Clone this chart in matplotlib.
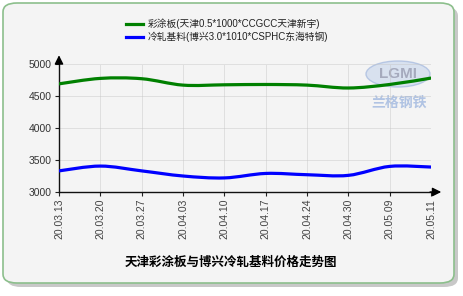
import numpy as np
import matplotlib
matplotlib.use('Agg')
import matplotlib.pyplot as plt
from matplotlib.path import Path
from matplotlib.patches import PathPatch, FancyBboxPatch, Ellipse

plt.rcParams['font.family'] = ['Liberation Sans', 'Noto Sans CJK SC']

dates = ['20.03.13', '20.03.20', '20.03.27', '20.04.03', '20.04.10',
         '20.04.17', '20.04.24', '20.04.30', '20.05.09', '20.05.11']
coated = [4690, 4775, 4770, 4670, 4675, 4680, 4670, 4625, 4680, 4780]
cold = [3330, 3405, 3330, 3250, 3220, 3290, 3270, 3260, 3400, 3390]
name_coated = '彩涂板(天津0.5*1000*CCGCC天津新宇)'
name_cold = '冷轧基料(博兴3.0*1010*CSPHC东海特钢)'
title = '天津彩涂板与博兴冷轧基料价格走势图'
yticks = [3000, 3500, 4000, 4500, 5000]


def smooth_path(x, y):
    # catmull-rom through the points, drawn as bezier segments
    p = np.column_stack([x, y]).astype(float)
    pp = np.vstack([p[0], p, p[-1]])
    verts = [p[0]]
    codes = [Path.MOVETO]
    for i in range(len(p) - 1):
        c1 = pp[i + 1] + (pp[i + 2] - pp[i]) / 6.0
        c2 = pp[i + 2] - (pp[i + 3] - pp[i + 1]) / 6.0
        verts += [c1, c2, pp[i + 2]]
        codes += [Path.CURVE4] * 3
    return Path(verts, codes)


fig = plt.figure(figsize=(4.64, 2.96), dpi=100)
fig.patch.set_facecolor('white')

W, H = 464.0, 296.0
# shadow + rounded frame
fig.patches.append(FancyBboxPatch((7 / W, 1 - 287 / H), 451 / W, 280 / H,
                                  boxstyle='round,pad=0,rounding_size=0.03',
                                  transform=fig.transFigure, facecolor='#c8c8c8',
                                  edgecolor='none', zorder=-3))
fig.patches.append(FancyBboxPatch((3 / W, 1 - 283 / H), 451 / W, 280 / H,
                                  boxstyle='round,pad=0,rounding_size=0.03',
                                  transform=fig.transFigure, facecolor='#f4f4f4',
                                  edgecolor='#8cbf8c', linewidth=1.2, zorder=-2))

# watermark (under the plot)
fig.patches.append(Ellipse((398 / W, 1 - 74 / H), 64 / W, 26 / H,
                           transform=fig.transFigure, facecolor='#cdd9ee',
                           edgecolor='#a3b8de', alpha=0.7, zorder=-1))
fig.text(398 / W, 1 - 74 / H, 'LGMI', fontsize=11, fontweight='bold',
         color='#a0a4b8', ha='center', va='center', alpha=0.9, zorder=-1)
fig.text(399 / W, 1 - 103 / H, '兰格钢铁', fontsize=10, color='#b0c3e3',
         ha='center', va='center', fontweight='bold', zorder=-1)

ax = fig.add_axes([59 / W, 1 - 192 / H, 372 / W, 128 / H])
ax.patch.set_visible(False)
x = np.arange(len(dates))
ax.set_xlim(0, len(dates) - 1)
ax.set_ylim(3000, 5000)

ax.add_patch(PathPatch(smooth_path(x, coated), facecolor='none',
                       edgecolor='#008000', linewidth=2.3, zorder=3, capstyle='round'))
ax.add_patch(PathPatch(smooth_path(x, cold), facecolor='none',
                       edgecolor='#0000ff', linewidth=2.3, zorder=3, capstyle='round'))

ax.set_xticks(x)
ax.set_xticklabels(dates, rotation=90, fontsize=7.5, color='#444444')
ax.set_yticks(yticks)
ax.set_yticklabels([str(v) for v in yticks], fontsize=7.5, color='#333333')
ax.tick_params(axis='both', length=3, width=0.8, color='#222222', pad=2)
ax.grid(True, color='#c4c4c4', linestyle=(0, (1.2, 1.2)), linewidth=0.6)
ax.set_axisbelow(True)

for s in ['top', 'right']:
    ax.spines[s].set_visible(False)
for s in ['left', 'bottom']:
    ax.spines[s].set_color('#111111')
    ax.spines[s].set_linewidth(1.0)

# axis arrows
ax.annotate('', xy=(0, 1.09), xytext=(0, 0.98), xycoords='axes fraction',
            arrowprops=dict(arrowstyle='-|>', color='black', lw=1.0,
                            mutation_scale=13), annotation_clip=False)
ax.annotate('', xy=(1.035, 0), xytext=(0.99, 0), xycoords='axes fraction',
            arrowprops=dict(arrowstyle='-|>', color='black', lw=1.0,
                            mutation_scale=13), annotation_clip=False)

# legend
fig.lines.append(plt.Line2D([126 / W, 143 / W], [1 - 24 / H] * 2,
                            transform=fig.transFigure, color='#008000', lw=2.3))
fig.lines.append(plt.Line2D([126 / W, 143 / W], [1 - 37 / H] * 2,
                            transform=fig.transFigure, color='#0000ff', lw=2.3))
fig.text(148 / W, 1 - 24 / H, name_coated, fontsize=7, color='#222222', va='center')
fig.text(148 / W, 1 - 37 / H, name_cold, fontsize=7, color='#222222', va='center')

fig.text(231 / W, 1 - 263 / H, title, fontsize=9, fontweight='bold',
         color='black', ha='center', va='center')

fig.savefig('out.png', dpi=100)
